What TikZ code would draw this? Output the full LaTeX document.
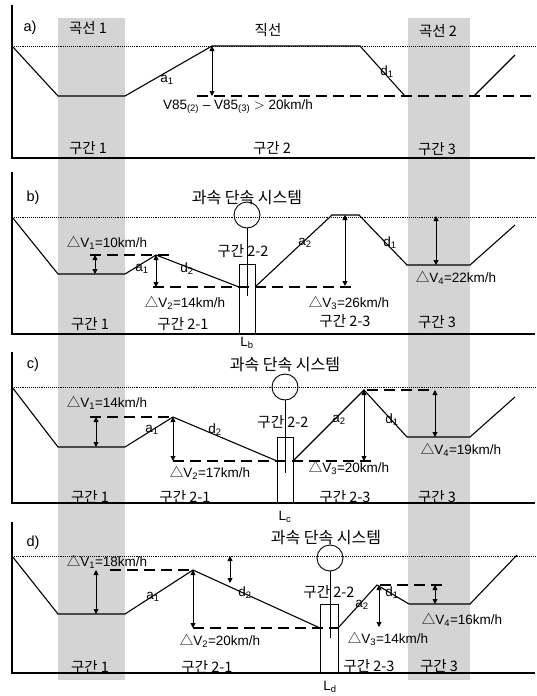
\documentclass[tikz,border=0pt]{standalone}
\usepackage{fontspec}
\setmainfont{Liberation Sans}
\newfontfamily\kr{Noto Sans CJK KR}
\usetikzlibrary{arrows.meta}

\newcommand\dV{{\kr △}V}

\tikzset{
  band/.style={fill=black!17,draw=none},
  axis/.style={line width=1.4pt},
  level/.style={densely dotted,line width=0.9pt},
  profile/.style={line width=1.1pt},
  refline/.style={line width=1.6pt,dash pattern=on 11pt off 6pt},
  dv/.style={line width=0.9pt,{Triangle[length=5pt,width=5pt]}-{Triangle[length=5pt,width=5pt]}},
  pole/.style={line width=0.9pt},
  krlab/.style={font=\kr\fontsize{14.5}{14.5}\selectfont},
  title/.style={font=\kr\fontsize{16}{16}\selectfont},
  numlab/.style={font=\fontsize{13.5}{13.5}\selectfont},
  tag/.style={font=\fontsize{14.5}{14.5}\selectfont}
}

\begin{document}
\begin{tikzpicture}[x=1pt,y=-1pt]
\useasboundingbox (0,0) rectangle (537,696);

% curve bands
\fill[band] (58,18) rectangle (125,680);
\fill[band] (408,18) rectangle (470,680);

% a) no enforcement
\draw[axis] (12,5) -- (12,158) -- (535,158);
\draw[level] (12,46) -- (535,46);
\draw[refline] (197,96) -- (535,96);
\coordinate (a-top) at (212,46);
\coordinate (a-low) at (212,96);
\draw[profile] (12,46) -- (58,96) -- (125,96) -- (a-top) -- (360,46) -- (405,96);
\draw[profile] (474,96) -- (515,55);
\draw[dv] (a-top) -- (a-low);
\node[tag] (a-tag) at (30,28) {a)};
\node[krlab] (a-c1) at (88,28) {곡선 1};
\node[krlab] (a-st) at (268,30) {직선};
\node[krlab] (a-c2) at (438,31) {곡선 2};
\node[numlab] (a-acc) at (167,80) {a\textsubscript{1}};
\node[numlab] (a-dec) at (387,72) {d\textsubscript{1}};
\node[numlab] (a-dif) at (238,107) {V85\textsubscript{(2)} – V85\textsubscript{(3)} $>$ 20km/h};
\node[krlab] (a-s1) at (88,148) {구간 1};
\node[krlab] (a-s2) at (272,148) {구간 2};
\node[krlab] (a-s3) at (437,149) {구간 3};

% b) pole at Lb
\draw[axis] (12,172) -- (12,334) -- (535,334);
\draw[level] (12,217) -- (535,217);
\draw[refline] (90,255) -- (175,255);
\draw[refline] (153,287) -- (357,287);
\coordinate (b-pk) at (156,255);
\coordinate (b-top) at (345,215);
\draw[profile] (12,217) -- (58,274) -- (125,274) -- (b-pk) -- (239,287);
\draw[profile] (255,287) -- (332,215) -- (359,215) -- (407,265) -- (470,265) -- (515,225);
\draw[pole] (239,264) rectangle (255,334);
\draw[pole] (247,215) circle (13);
\draw[pole] (247,228) -- (247,296);
\draw[dv] (95,255) -- (95,274);
\draw[dv] (b-pk) -- (156,287);
\draw[dv] (b-top) -- (345,286);
\draw[dv] (436,216) -- (436,265);
\node[tag] (b-tag) at (33,198) {b)};
\node[title] (b-sys) at (247,198) {과속 단속 시스템};
\node[numlab] (b-v1) at (107,243) {\dV\textsubscript{1}=10km/h};
\node[numlab] (b-acc) at (142,269) {a\textsubscript{1}};
\node[numlab] (b-dec) at (187,269) {d\textsubscript{2}};
\node[numlab] (b-v2) at (185,303) {\dV\textsubscript{2}=14km/h};
\node[krlab] (b-s22) at (243,251) {구간 2-2};
\node[numlab] (b-acc2) at (305,243) {a\textsubscript{2}};
\node[numlab] (b-dec1) at (390,243) {d\textsubscript{1}};
\node[numlab] (b-v3) at (349,303) {\dV\textsubscript{3}=26km/h};
\node[numlab] (b-v4) at (456,278) {\dV\textsubscript{4}=22km/h};
\node[krlab] (b-s1) at (90,324) {구간 1};
\node[krlab] (b-s21) at (183,324) {구간 2-1};
\node[krlab] (b-s23) at (345,321) {구간 2-3};
\node[krlab] (b-s3) at (437,322) {구간 3};
\node[numlab] (b-L) at (247,343) {L\textsubscript{b}};

% c) pole at Lc
\draw[axis] (12,352) -- (12,503) -- (535,503);
\draw[level] (12,387) -- (535,387);
\draw[refline] (90,417) -- (173,417);
\draw[refline] (173,461) -- (374,461);
\draw[refline] (367,390) -- (435,390);
\coordinate (c-pk) at (173,417);
\coordinate (c-top) at (364,390);
\draw[profile] (12,387) -- (58,447) -- (125,447) -- (c-pk) -- (277,461);
\draw[profile] (293,461) -- (c-top) -- (407,437) -- (470,437) -- (515,397);
\draw[pole] (277,437) rectangle (293,503);
\draw[pole] (285,387) circle (13);
\draw[pole] (285,400) -- (285,473);
\draw[dv] (96,417) -- (96,447);
\draw[dv] (c-pk) -- (173,461);
\draw[dv] (c-top) -- (364,461);
\draw[dv] (435,390) -- (435,437);
\node[tag] (c-tag) at (33,365) {c)};
\node[title] (c-sys) at (285,365) {과속 단속 시스템};
\node[numlab] (c-v1) at (107,403) {\dV\textsubscript{1}=14km/h};
\node[numlab] (c-acc) at (152,430) {a\textsubscript{1}};
\node[numlab] (c-dec) at (215,430) {d\textsubscript{2}};
\node[numlab] (c-v2) at (210,473) {\dV\textsubscript{2}=17km/h};
\node[krlab] (c-s22) at (283,422) {구간 2-2};
\node[numlab] (c-acc2) at (339,420) {a\textsubscript{2}};
\node[numlab] (c-dec1) at (392,420) {d\textsubscript{1}};
\node[numlab] (c-v3) at (349,468) {\dV\textsubscript{3}=20km/h};
\node[numlab] (c-v4) at (461,450) {\dV\textsubscript{4}=19km/h};
\node[krlab] (c-s1) at (90,497) {구간 1};
\node[krlab] (c-s21) at (185,497) {구간 2-1};
\node[krlab] (c-s23) at (345,497) {구간 2-3};
\node[krlab] (c-s3) at (437,497) {구간 3};
\node[numlab] (c-L) at (285,517) {L\textsubscript{c}};

% d) pole at Ld
\draw[axis] (12,522) -- (12,673) -- (535,673);
\draw[level] (12,556) -- (535,556);
\draw[refline] (110,570) -- (193,570);
\draw[refline] (193,628) -- (338,628);
\draw[refline] (380,585) -- (444,585);
\coordinate (d-pk) at (193,570);
\coordinate (d-top) at (377,585);
\draw[profile] (12,556) -- (58,614) -- (125,614) -- (d-pk) -- (320,628);
\draw[profile] (338,628) -- (d-top) -- (409,604) -- (470,604) -- (517,555);
\draw[pole] (320,604) rectangle (338,673);
\draw[pole] (330,558) circle (13);
\draw[pole] (330,571) -- (330,638);
\draw[dv] (96,570) -- (96,614);
\draw[dv] (230,556) -- (230,583);
\draw[dv] (d-pk) -- (193,628);
\draw[dv] (379,585) -- (379,627);
\draw[dv] (435,585) -- (435,604);
\node[tag] (d-tag) at (33,543) {d)};
\node[title] (d-sys) at (326,538) {과속 단속 시스템};
\node[numlab] (d-v1) at (107,562) {\dV\textsubscript{1}=18km/h};
\node[numlab] (d-acc) at (153,597) {a\textsubscript{1}};
\node[numlab] (d-dec) at (245,593) {d\textsubscript{2}};
\node[numlab] (d-v2) at (220,641) {\dV\textsubscript{2}=20km/h};
\node[krlab] (d-s22) at (329,592) {구간 2-2};
\node[numlab] (d-acc2) at (362,605) {a\textsubscript{2}};
\node[numlab] (d-dec1) at (392,593) {d\textsubscript{1}};
\node[numlab] (d-v3) at (388,639) {\dV\textsubscript{3}=14km/h};
\node[numlab] (d-v4) at (462,620) {\dV\textsubscript{4}=16km/h};
\node[krlab] (d-s1) at (90,667) {구간 1};
\node[krlab] (d-s21) at (207,667) {구간 2-1};
\node[krlab] (d-s23) at (369,666) {구간 2-3};
\node[krlab] (d-s3) at (439,666) {구간 3};
\node[numlab] (d-L) at (330,687) {L\textsubscript{d}};
\end{tikzpicture}
\end{document}
